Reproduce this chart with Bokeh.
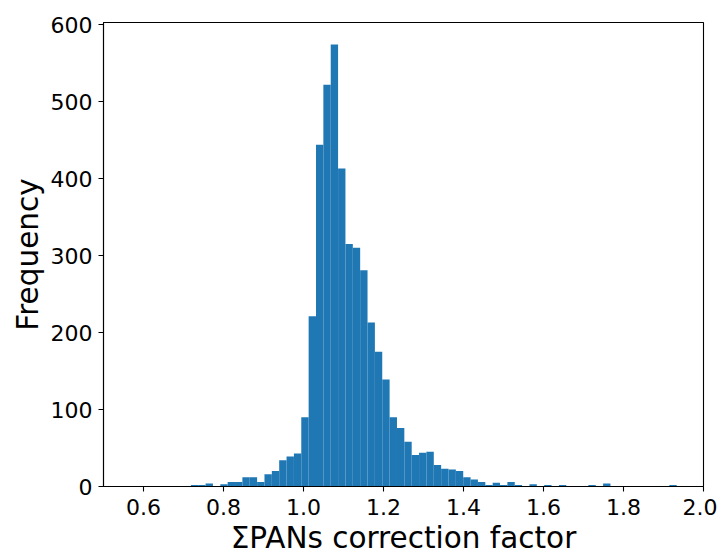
from bokeh.plotting import figure
from bokeh.models import ColumnDataSource, FixedTicker, Range1d
from bokeh.embed import file_html
from bokeh.resources import INLINE

# Histogram of the ΣPANs correction factor
bin_start = 0.7184
bin_width = 0.018403
counts = [2, 2, 4, 0, 3, 6, 6, 12, 12, 6,
          16, 20, 34, 39, 43, 90, 221, 444, 522, 574,
          413, 315, 310, 281, 213, 175, 139, 90, 76, 58,
          41, 44, 45, 28, 23, 22, 20, 12, 9, 6,
          2, 5, 2, 6, 2, 0, 3, 0, 2, 0,
          2, 0, 0, 0, 2, 0, 4, 0, 0, 0,
          0, 0, 0, 0, 0, 2]
x_ticks = [0.6, 0.8, 1.0, 1.2, 1.4, 1.6, 1.8, 2.0]
x_tick_labels = ["0.6", "0.8", "1.0", "1.2", "1.4", "1.6", "1.8", "2.0"]
y_ticks = [0, 100, 200, 300, 400, 500, 600]

lefts = [bin_start + i * bin_width for i in range(len(counts))]
rights = [l + bin_width for l in lefts]
src = ColumnDataSource(dict(left=lefts, right=rights, top=counts,
                            bottom=[0] * len(counts)))

FONT = "DejaVu Sans"

p = figure(output_backend="svg", toolbar_location=None,
           frame_width=600, frame_height=464,
           min_border_left=103, min_border_top=22,
           min_border_right=14, min_border_bottom=66,
           x_range=Range1d(0.5, 2.0), y_range=Range1d(0, 602.7))

p.quad(left="left", right="right", top="top", bottom="bottom", source=src,
       fill_color="#1f77b4", line_color=None)

p.grid.visible = False
p.outline_line_color = "black"
p.outline_line_width = 1.1
p.background_fill_color = "white"
p.border_fill_color = "white"

for ax in (p.xaxis[0], p.yaxis[0]):
    ax.axis_line_color = "black"
    ax.axis_line_width = 1.1
    ax.major_tick_line_color = "black"
    ax.major_tick_line_width = 1.1
    ax.major_tick_out = 5
    ax.major_tick_in = 0
    ax.minor_tick_line_color = None
    ax.major_label_text_font = FONT
    ax.major_label_text_font_size = "22px"
    ax.major_label_text_color = "#000000"
    ax.axis_label_text_font = FONT
    ax.axis_label_text_font_size = "29.5px"
    ax.axis_label_text_font_style = "normal"
    ax.axis_label_text_color = "#000000"

p.xaxis.ticker = FixedTicker(ticks=x_ticks)
p.xaxis.major_label_overrides = {t: s for t, s in zip(x_ticks, x_tick_labels)}
p.yaxis.ticker = FixedTicker(ticks=y_ticks)
p.xaxis.axis_label = "ΣPANs correction factor"
p.yaxis.axis_label = "Frequency"
p.xaxis.major_label_standoff = 7
p.xaxis.axis_label_standoff = 3
p.yaxis.major_label_standoff = 6
p.yaxis.axis_label_standoff = 3

open("out.html", "w").write(file_html(p, INLINE))
